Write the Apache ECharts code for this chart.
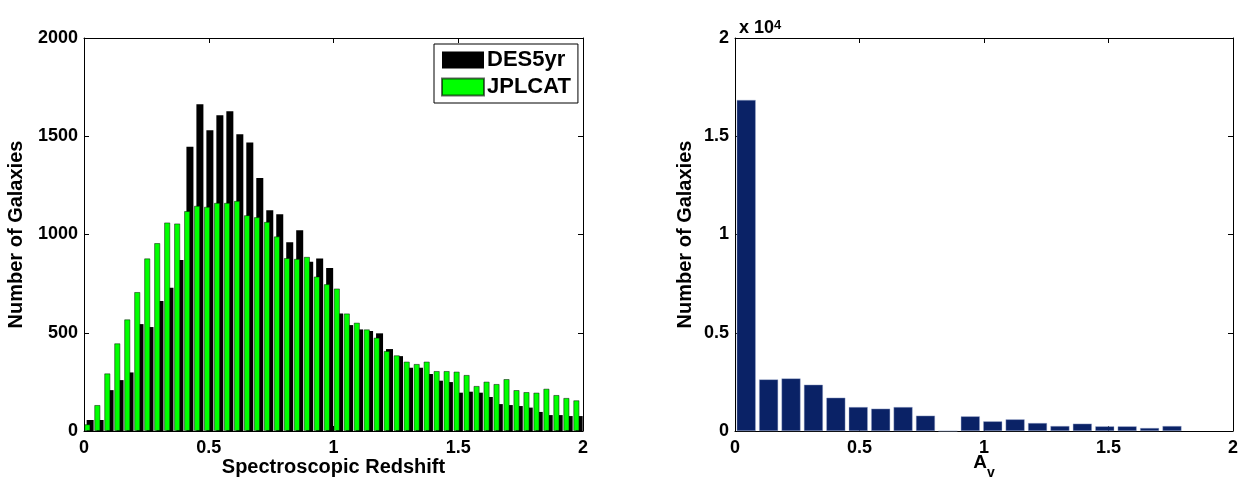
<!DOCTYPE html>
<html>
<head>
<meta charset="utf-8">
<script src="https://cdn.jsdelivr.net/npm/echarts@6/dist/echarts.min.js"></script>
<style>html,body{margin:0;padding:0;background:#fff}#c{width:1240px;height:479px}</style>
</head>
<body>
<div id="c"></div>
<script>
// Left panel: spectroscopic redshift histogram (bin centres)
const redshiftBins = [0.02,0.06,0.10,0.14,0.18,0.22,0.26,0.30,0.34,0.38,0.42,0.46,0.50,0.54,0.58,0.62,0.66,0.70,0.74,0.78,0.82,0.86,0.90,0.94,0.98,1.02,1.06,1.10,1.14,1.18,1.22,1.26,1.30,1.34,1.38,1.42,1.46,1.50,1.54,1.58,1.62,1.66,1.70,1.74,1.78,1.82,1.86,1.90,1.94,1.98];
const des5yr = [56,56,208,259,298,544,529,661,729,870,1446,1663,1531,1607,1627,1510,1468,1288,1124,1103,961,1022,861,878,829,598,539,517,509,497,417,381,322,322,290,256,249,195,200,195,173,137,132,127,119,97,81,81,76,76];
const jplcat = [34,132,293,446,568,707,878,956,1061,1056,1119,1146,1141,1161,1161,1171,1098,1088,1064,990,880,876,886,786,747,725,598,551,517,475,407,385,353,341,353,305,305,302,285,229,251,239,264,208,198,195,215,183,168,156];
// Right panel: A_v histogram (bin centres)
const avBins = [0.045,0.135,0.225,0.315,0.405,0.495,0.585,0.675,0.765,0.855,0.945,1.035,1.125,1.215,1.305,1.395,1.485,1.575,1.665,1.755];
const avCounts = [16850,2627,2678,2356,1695,1220,1136,1220,780,0,746,492,593,407,254,373,237,237,153,254];
// Tick labels
const xTicks = ['0','0.5','1','1.5','2'];
const leftYTicks = ['0','500','1000','1500','2000'];
const rightYTicks = ['0','0.5','1','1.5','2'];

const FONT = 'Liberation Sans, Arial, sans-serif';
const lbl = {color:'#000', fontFamily:FONT, fontWeight:'bold', fontSize:18};
const line = {show:true, onZero:false, lineStyle:{color:'#000', width:1}};
const tick = {show:true, inside:true, length:5, lineStyle:{color:'#000', width:1}};

function xAx(grid, pos, withLabels, name, nameGap, nameStyle){
  return {type:'value', gridIndex:grid, position:pos, min:0, max:2, interval:0.5,
    axisLine:line, axisTick:tick, splitLine:{show:false},
    axisLabel: withLabels ? Object.assign({show:true, margin:8, formatter:(v)=>xTicks[Math.round(v/0.5)]}, lbl) : {show:false},
    name: name||'', nameLocation:'middle', nameGap: nameGap||0, nameMoveOverlap:false,
    nameTextStyle: nameStyle || Object.assign({}, lbl, {fontSize:20})};
}
function yAx(grid, pos, withLabels, max, interval, ticks, name, nameGap){
  return {type:'value', gridIndex:grid, position:pos, min:0, max:max, interval:interval,
    axisLine:line, axisTick:tick, splitLine:{show:false},
    axisLabel: withLabels ? Object.assign({show:true, margin:6, formatter:(v)=>ticks[Math.round(v/interval)]}, lbl) : {show:false},
    name: name||'', nameLocation:'middle', nameGap: nameGap||0, nameMoveOverlap:false,
    nameTextStyle: Object.assign({}, lbl, {fontSize:20})};
}

const chart = echarts.init(document.getElementById('c'), null, {renderer:'canvas'});
chart.setOption({
  animation:false,
  backgroundColor:'#fff',
  grid:[
    {left:84, top:38, width:499, height:393, outerBoundsMode:'none', containLabel:false},
    {left:735, top:38, width:498, height:393, outerBoundsMode:'none', containLabel:false}
  ],
  title:{
    text:'x 10{s|4}', left:734, top:14,
    textStyle:{color:'#000', fontFamily:FONT, fontWeight:'bold', fontSize:18,
      rich:{s:{color:'#000', fontFamily:FONT, fontWeight:'bold', fontSize:13, verticalAlign:'top', lineHeight:13}}}
  },
  legend:{
    data:['DES5yr','JPLCAT'], orient:'vertical', left:434, top:44,
    backgroundColor:'#fff', borderColor:'#000', borderWidth:1,
    padding:[5,7,5,7], itemWidth:42, itemHeight:17, itemGap:5,
    icon:'rect',
    textStyle:{color:'#000', fontFamily:FONT, fontWeight:'bold', fontSize:22, lineHeight:21, padding:[0,0,0,-2]}
  },
  xAxis:[
    xAx(0,'bottom',true,'Spectroscopic Redshift',26),
    xAx(0,'top',false),
    xAx(1,'bottom',true,'{a|A}{sub|v}',22, Object.assign({}, lbl, {fontSize:19,
      rich:{
        a:{color:'#000', fontFamily:FONT, fontWeight:'bold', fontSize:19, lineHeight:19, verticalAlign:'top'},
        sub:{color:'#000', fontFamily:FONT, fontWeight:'bold', fontSize:14, lineHeight:40, verticalAlign:'middle'}
      }})),
    xAx(1,'top',false)
  ],
  yAxis:[
    yAx(0,'left',true,2000,500,leftYTicks,'Number of Galaxies',58),
    yAx(0,'right',false,2000,500),
    yAx(1,'left',true,20000,5000,rightYTicks,'Number of Galaxies',40),
    yAx(1,'right',false,20000,5000)
  ],
  series:[
    {name:'JPLCAT', type:'bar', xAxisIndex:0, yAxisIndex:0, barWidth:6, barGap:'-62%', z:3,
      itemStyle:{color:'#00ff00', borderColor:'rgba(0,0,0,0.6)', borderWidth:0.8},
      data: redshiftBins.map((x,i)=>[x, jplcat[i]])},
    {name:'DES5yr', type:'bar', xAxisIndex:0, yAxisIndex:0, barWidth:7, barGap:'-62%', z:2,
      itemStyle:{color:'#000000'},
      data: redshiftBins.map((x,i)=>[x, des5yr[i]])},
    {name:'Av', type:'bar', xAxisIndex:2, yAxisIndex:2, barWidth:19,
      itemStyle:{color:'#0a2266', borderColor:'rgba(160,175,210,0.8)', borderWidth:0.5},
      data: avBins.map((x,i)=>[x, avCounts[i]])}
  ]
});
</script>
</body>
</html>
